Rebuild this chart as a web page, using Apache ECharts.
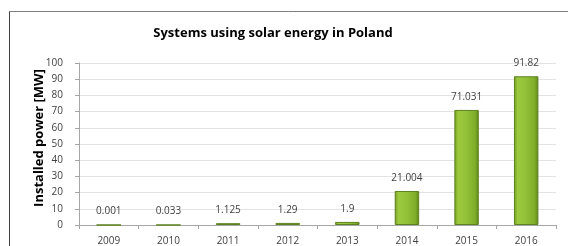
<!DOCTYPE html>
<html><head><meta charset="utf-8">
<script src="https://cdn.jsdelivr.net/npm/echarts@6/dist/echarts.min.js"></script>
<style>html,body{margin:0;padding:0;background:#fff}#c{width:568px;height:246px}</style>
</head><body><div id="c"></div>
<script>
const years = ['2009','2010','2011','2012','2013','2014','2015','2016'];
const power = [0.001, 0.033, 1.125, 1.29, 1.9, 21.004, 71.031, 91.82];
const labels = ['0.001','0.033','1.125','1.29','1.9','21.004','71.031','91.82'];
const chart = echarts.init(document.getElementById('c'), null, {renderer:'canvas'});
const font = '"Open Sans", "Liberation Sans", sans-serif';
chart.setOption({
  animation:false,
  title:{text:'Systems using solar energy in Poland', left:268, top:22, textAlign:'center',
    textStyle:{fontFamily:font, fontSize:13, fontWeight:'bold', color:'#000'}},
  graphic:[
    {type:'line', shape:{x1:9.5,y1:11.5,x2:568,y2:11.5}, style:{stroke:'#7f7f7f', lineWidth:1}},
    {type:'line', shape:{x1:9.5,y1:11.5,x2:9.5,y2:246}, style:{stroke:'#404040', lineWidth:1}}
  ],
  grid:{left:79, right:12, top:63, bottom:20},
  xAxis:{type:'category', data:years,
    axisLine:{lineStyle:{color:'#a6a6a6'}},
    axisTick:{show:true, length:4, lineStyle:{color:'#a6a6a6'}},
    axisLabel:{fontFamily:font, fontSize:10, color:'#404040', margin:11}},
  yAxis:{type:'value', min:0, max:100, interval:10,
    name:'Installed power [MW]', nameLocation:'middle', nameGap:33, nameRotate:90, nameMoveOverlap:false,
    nameTextStyle:{fontFamily:font, fontSize:13, fontWeight:'bold', color:'#000', padding:[0,0,0,12]},
    axisLine:{show:true, lineStyle:{color:'#a6a6a6'}},
    axisTick:{show:true, length:4, lineStyle:{color:'#a6a6a6'}},
    axisLabel:{fontFamily:font, fontSize:10, color:'#404040', margin:16},
    splitLine:{lineStyle:{color:'#e3e3e3'}}},
  series:[{type:'bar', data:power, barWidth:'41%',
    itemStyle:{
      color:new echarts.graphic.LinearGradient(0,0,1,0,[
        {offset:0,color:'#6e9a1e'},{offset:0.15,color:'#9cc93e'},
        {offset:0.5,color:'#92c038'},{offset:0.85,color:'#7ead2a'},{offset:1,color:'#5d8416'}]),
      borderColor:'#5f8220', borderWidth:1},
    label:{show:true, position:'top', distance:8, fontFamily:font, fontSize:10, color:'#404040',
      formatter:p=>labels[p.dataIndex]}}]
});
</script></body></html>
